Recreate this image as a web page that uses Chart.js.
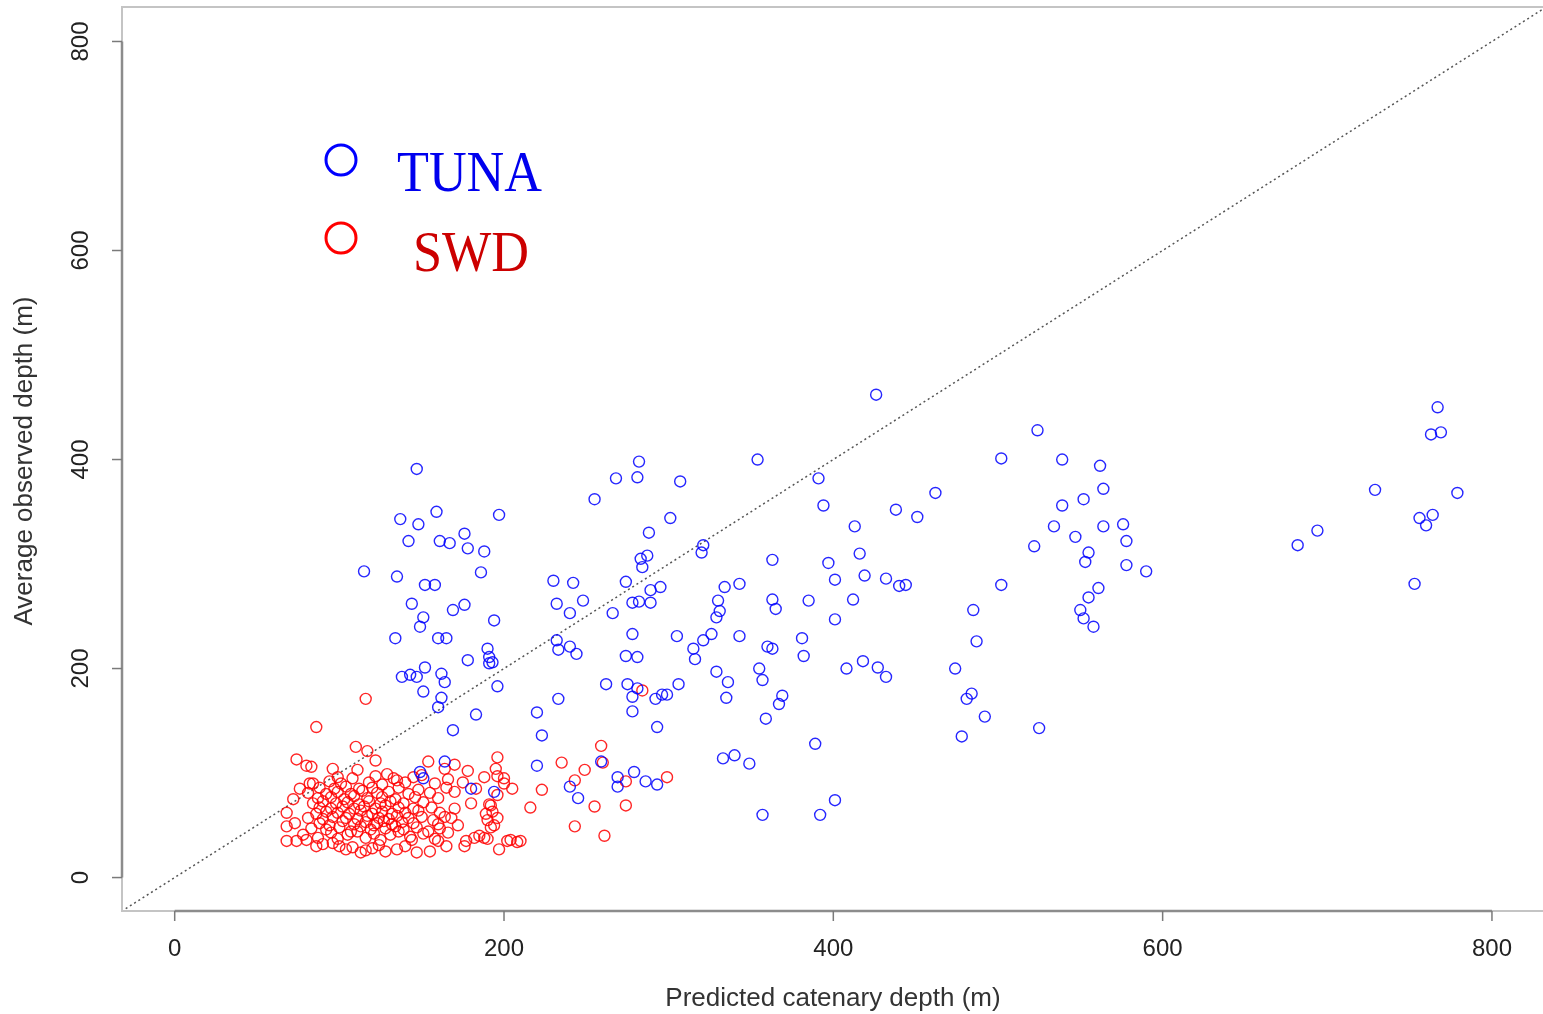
<!DOCTYPE html>
<html>
  <head>
    <title>Catenary depth vs observed depth</title>
    <script src="https://cdn.jsdelivr.net/npm/chart.js"></script>
    <style>
      html, body { margin: 0; padding: 0; background: #fff; }
      #chart { display: block; }
    </style>
  </head>
  <body>
    <canvas id="chart" width="1543" height="1014"></canvas>
    <script>
      // [predicted catenary depth, average observed depth] in metres
      const tunaPoints = [
        [426,462],[767,450],[763,424],[769,426],[524,428],[147,391],[282,398],[354,400],[502,401],[539,400],
        [562,394],[268,382],[281,383],[391,382],[307,379],[564,372],[462,368],[729,371],[779,368],[255,362],
        [552,362],[394,356],[539,356],[438,352],[451,345],[197,347],[301,344],[159,350],[137,343],[148,338],
        [534,336],[564,336],[413,336],[576,338],[578,322],[756,344],[764,347],[760,337],[694,332],[176,329],
        [288,330],[142,322],[161,322],[167,320],[178,315],[188,312],[321,318],[320,311],[522,317],[682,318],
        [416,310],[555,311],[553,302],[363,304],[287,308],[283,305],[397,301],[284,297],[578,299],[590,293],
        [115,293],[135,288],[186,292],[419,289],[432,286],[230,284],[242,282],[274,283],[152,280],[158,280],
        [343,281],[334,278],[502,280],[753,281],[440,279],[444,280],[401,285],[295,278],[289,275],[561,277],
        [248,265],[232,262],[144,262],[176,261],[278,263],[282,264],[289,263],[330,265],[363,266],[385,265],
        [412,266],[555,268],[550,256],[485,256],[365,257],[331,255],[266,253],[240,253],[169,256],[151,249],
        [149,240],[552,248],[558,240],[194,246],[401,247],[329,249],[134,229],[160,229],[165,229],[278,233],
        [305,231],[326,233],[343,231],[321,227],[315,219],[316,209],[381,229],[232,227],[233,218],[240,221],
        [244,214],[487,226],[190,219],[191,211],[191,205],[193,206],[178,208],[274,212],[281,211],[382,212],
        [418,207],[408,200],[427,201],[432,192],[474,200],[355,200],[329,197],[360,221],[363,219],[152,201],
        [138,192],[143,194],[147,192],[162,195],[164,187],[357,189],[336,187],[262,185],[275,185],[196,183],
        [306,185],[281,181],[151,178],[162,172],[278,173],[296,175],[299,175],[292,171],[484,176],[481,171],
        [369,174],[367,166],[335,172],[233,171],[160,163],[278,159],[220,158],[183,156],[359,152],[492,154],
        [293,144],[223,136],[478,135],[525,143],[389,128],[169,141],[164,111],[333,114],[340,117],[349,109],
        [220,107],[259,111],[149,101],[151,95],[269,96],[269,87],[279,101],[286,92],[293,89],[240,87],
        [245,76],[194,82],[180,85],[401,74],[357,60],[392,60],[547,326]
      ];

      const swdPoints = [
        // scattered points around the main cluster
        [116,171],[86,144],[110,125],[117,121],[122,112],[74,113],[80,107],[83,106],[96,104],[111,103],
        [129,99],[135,93],[150,98],[154,111],[164,104],[170,108],[178,102],[196,115],[195,104],[196,97],
        [200,95],[200,90],[235,110],[243,93],[260,110],[259,126],[274,92],[249,103],[284,179],[299,96],
        [274,69],[255,68],[216,67],[261,40],[243,49],[205,85],[208,34],[223,84],[210,35],[202,35],
        [204,36],[190,37],[185,40],[182,38],[177,35],[172,50],[168,57],[176,30],[160,35],[165,30],
        [155,25],[147,24],[140,30],[135,27],[128,25],[120,28],[113,24],[104,27],[100,30],[96,33],
        [90,32],[86,30],[80,36],[74,35],[68,35],[68,49],[68,62],[72,75],[76,85],[82,90],
        [191,70],[193,63],[190,55],[194,50],[188,38],[197,27],[116,26],[124,31],[108,29],[144,36],
        // dense core
        [78,41],[87,38],[95,43],[99,37],[105,41],[111,44],[116,38],[121,42],[125,36],[131,41],[136,44],[143,39],[151,42],[158,37],[166,43],
        [83,47],[92,46],[100,48],[107,44],[113,49],[119,46],[123,52],[128,47],[134,49],[139,46],[147,48],[154,44],[161,47],
        [73,52],[88,52],[94,50],[102,54],[109,51],[116,53],[121,50],[127,54],[132,51],[138,53],[145,52],[160,51],[192,48],
        [81,57],[90,56],[96,58],[104,57],[111,56],[117,59],[124,57],[130,56],[135,59],[142,57],[150,58],[157,55],[164,58],[196,57],
        [86,61],[92,63],[99,62],[106,61],[113,64],[120,61],[126,63],[132,61],[140,62],[148,64],[161,62],[189,61],
        [88,67],[95,66],[102,68],[109,66],[115,68],[122,66],[128,69],[136,67],[145,66],[156,67],[170,66],
        [84,71],[90,73],[98,71],[105,72],[112,70],[118,73],[125,71],[131,73],[139,71],[151,72],[180,71],[192,69],
        [87,76],[95,77],[103,75],[109,78],[117,76],[126,77],[134,75],[146,77],[160,76],
        [81,81],[92,80],[99,82],[107,80],[114,83],[123,81],[130,82],[142,80],[155,81],[170,82],[196,79],
        [88,86],[97,85],[104,87],[112,85],[120,86],[136,86],[148,84],[165,86],[183,85],
        [84,90],[94,92],[101,90],[118,91],[126,89],[140,91],[158,90],[175,91],
        [99,96],[108,95],[122,97],[133,95],[145,96],[166,94],[188,96]
      ];

      const tickValues = [0, 200, 400, 600, 800];
      const refLine = [-40, 840];  // 1:1 line
      const xTitle = 'Predicted catenary depth (m)';
      const yTitle = 'Average observed depth (m)';
      const legendItems = [
        { label: 'TUNA', color: '#0000ff', textColor: '#0000ee' },
        { label: 'SWD', color: '#ff0000', textColor: '#cc0000' }
      ];

      const toXY = pts => pts.map(([x, y]) => ({ x, y }));

      // R-style axes, box, labels and the legend
      const rAxes = {
        id: 'rAxes',
        afterDraw(chart) {
          const { ctx, chartArea: a, scales: { x, y } } = chart;
          ctx.save();

          // plot box
          ctx.strokeStyle = '#c4c4c4';
          ctx.lineWidth = 2;
          ctx.strokeRect(a.left, a.top, a.right - a.left + 10, a.bottom - a.top);

          // axis lines from first to last tick
          ctx.strokeStyle = '#8c8c8c';
          ctx.lineWidth = 2.5;
          ctx.beginPath();
          ctx.moveTo(a.left, y.getPixelForValue(tickValues[0]));
          ctx.lineTo(a.left, y.getPixelForValue(tickValues[tickValues.length - 1]));
          ctx.moveTo(x.getPixelForValue(tickValues[0]), a.bottom);
          ctx.lineTo(x.getPixelForValue(tickValues[tickValues.length - 1]), a.bottom);
          ctx.stroke();

          // ticks and tick labels
          ctx.strokeStyle = '#7a7a7a';
          ctx.lineWidth = 1.5;
          ctx.fillStyle = '#222';
          ctx.font = '24px "Liberation Sans", Arial, sans-serif';
          ctx.textAlign = 'center';
          ctx.textBaseline = 'middle';
          tickValues.forEach(v => {
            const px = x.getPixelForValue(v);
            ctx.beginPath();
            ctx.moveTo(px, a.bottom);
            ctx.lineTo(px, a.bottom + 10);
            ctx.stroke();
            ctx.fillText(String(v), px, 949);

            const py = y.getPixelForValue(v);
            ctx.beginPath();
            ctx.moveTo(a.left, py);
            ctx.lineTo(a.left - 10, py);
            ctx.stroke();
            ctx.save();
            ctx.translate(81, py);
            ctx.rotate(-Math.PI / 2);
            ctx.fillText(String(v), 0, 0);
            ctx.restore();
          });

          // axis titles
          ctx.fillStyle = '#333';
          ctx.font = '26px "Liberation Sans", Arial, sans-serif';
          ctx.fillText(xTitle, 833, 999);
          ctx.save();
          ctx.translate(25, 461);
          ctx.rotate(-Math.PI / 2);
          ctx.fillText(yTitle, 0, 0);
          ctx.restore();

          // legend
          const rows = [{ cx: 341, cy: 160, tx: 397, ty: 176 }, { cx: 341, cy: 238, tx: 413, ty: 256 }];
          legendItems.forEach((item, i) => {
            const r = rows[i];
            ctx.strokeStyle = item.color;
            ctx.lineWidth = 3;
            ctx.beginPath();
            ctx.arc(r.cx, r.cy, 15, 0, Math.PI * 2);
            ctx.stroke();
            ctx.save();
            ctx.translate(r.tx, r.ty);
            ctx.scale(0.9, 1);
            ctx.fillStyle = item.textColor;
            ctx.font = '58px "Liberation Serif", "Times New Roman", serif';
            ctx.textAlign = 'left';
            ctx.textBaseline = 'middle';
            ctx.fillText(item.label, 0, 0);
            ctx.restore();
          });

          ctx.restore();
        }
      };

      const pointStyle = color => ({
        type: 'scatter',
        pointStyle: 'circle',
        pointRadius: 5.5,
        pointHoverRadius: 5.5,
        pointBorderWidth: 1.4,
        borderColor: color,
        backgroundColor: 'rgba(0,0,0,0)',
        pointBackgroundColor: 'rgba(0,0,0,0)'
      });

      new Chart(document.getElementById('chart'), {
        type: 'scatter',
        data: {
          datasets: [
            { label: legendItems[0].label, data: toXY(tunaPoints), ...pointStyle('rgba(0,0,255,0.85)') },
            { label: legendItems[1].label, data: toXY(swdPoints), ...pointStyle('rgba(255,0,0,0.85)') },
            {
              type: 'line',
              label: '1:1',
              data: refLine.map(v => ({ x: v, y: v })),
              borderColor: '#555',
              borderWidth: 1.5,
              borderDash: [2, 3],
              pointRadius: 0,
              fill: false
            }
          ]
        },
        options: {
          responsive: false,
          animation: false,
          events: [],
          layout: { autoPadding: false, padding: { left: 122, top: 7, right: 0, bottom: 103 } },
          plugins: { legend: { display: false }, tooltip: { enabled: false } },
          scales: {
            x: { type: 'linear', min: -32, max: 831, display: false },
            y: { type: 'linear', min: -32, max: 833, display: false }
          }
        },
        plugins: [rAxes]
      });
    </script>
  </body>
</html>
